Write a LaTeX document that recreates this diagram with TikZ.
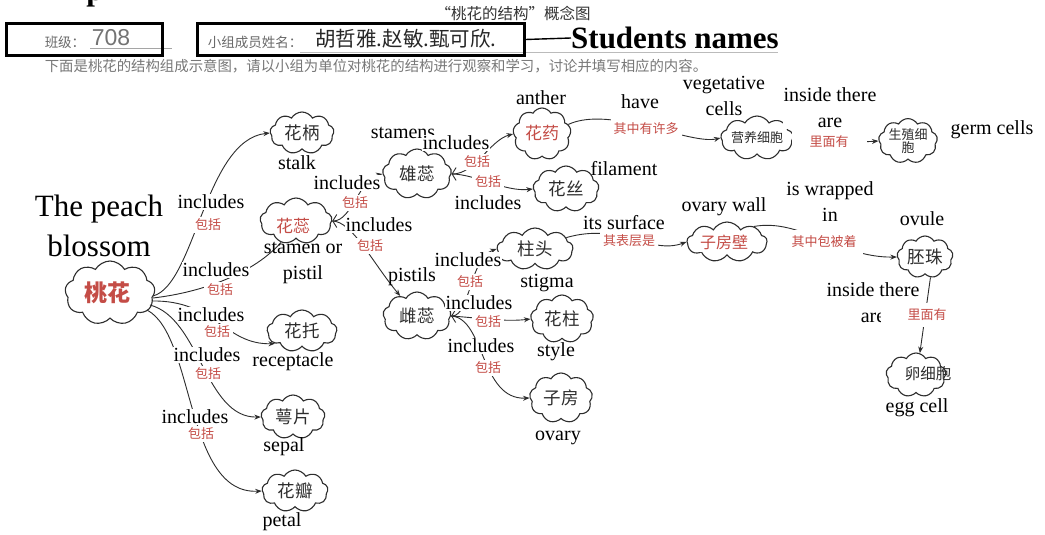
\documentclass[tikz,border=0pt]{standalone}
\usepackage{fontspec}
\setmainfont{Liberation Serif}
\setsansfont{Liberation Sans}
\newfontfamily\cjk{Noto Sans CJK SC}
\usetikzlibrary{shapes.symbols,arrows.meta,calc}
\definecolor{lblred}{RGB}{196,76,70}
\definecolor{ink}{RGB}{45,45,45}
\definecolor{hdr}{RGB}{105,105,105}
\tikzset{
  cl/.style n args={2}{cloud, cloud puffs=9, cloud puff arc=120, cloud ignores aspect,
    draw=ink, line width=1.1pt, inner sep=0pt, minimum width=#1, minimum height=#2,
    font=\cjk\fontsize{17.5}{19}\selectfont, text=ink},
  eng/.style={font=\fontsize{20}{26}\selectfont, inner sep=0.5pt, align=center, text=black},
  lnk/.style={eng, fill=white},
  rlb/.style={font=\cjk\fontsize{13}{15}\selectfont, text=lblred, fill=white, inner xsep=3pt, inner ysep=2pt},
  rin/.style={font=\cjk\fontsize{17}{19}\selectfont, text=lblred, fill=white, inner sep=1pt},
  conn/.style={draw=ink, line width=0.9pt},
  arr/.style={conn, -{Stealth[length=6.5pt,width=5pt]}},
  bar/.style={conn, {Straight Barb[length=4pt,width=13pt]}-{Stealth[length=6.5pt,width=5pt]}},
  hdrtext/.style={font=\cjk\fontsize{13.5}{15}\selectfont, text=hdr, inner sep=0pt},
  hbox/.style={draw=black, line width=2.2pt, minimum height=32pt, inner sep=0pt}
}
\begin{document}
\begin{tikzpicture}[x=1pt,y=-1pt]
\useasboundingbox[fill=white] (0,0) rectangle (1045,535);

% ---------------- header ----------------
\node[font=\bfseries\fontsize{31}{31}\selectfont, anchor=base, inner sep=0pt] (pcut) at (95,0.5) {p};
\node[font=\cjk\fontsize{15.5}{17}\selectfont, text=black!80, inner sep=0pt] (title) at (513,14) {“桃花的结构”概念图};
\draw[hdr!60, line width=0.6pt] (90,48) -- (172,48);
\draw[hdr!45, line width=0.6pt] (300,52) -- (778,52);
\node[hbox, minimum width=156pt] (classbox) at (84.5,39.5) {};
\node[hbox, minimum width=327pt] (namebox) at (361,39.5) {};
\node[hdrtext] (classlbl) at (65,42) {班级：};
\node[font=\sffamily\fontsize{23}{23}\selectfont, text=black!55, inner sep=0pt] (classno) at (111,38) {708};
\node[hdrtext] (namelbl) at (255,42) {小组成员姓名：};
\node[font=\cjk\fontsize{20.5}{22}\selectfont, text=black!85, inner sep=0pt] (names) at (406,39) {胡哲雅.赵敏.甄可欣.};
\node[font=\bfseries\fontsize{31}{31}\selectfont, anchor=west, inner sep=0pt] (students) at (571,38) {Students names};
\draw[line width=1.4pt] (namebox.east) -- (students.west);
\node[font=\cjk\fontsize{14.4}{16}\selectfont, text=hdr!90, inner sep=0pt] (instr) at (376,66)
  {下面是桃花的结构组成示意图，请以小组为单位对桃花的结构进行观察和学习，讨论并填写相应的内容。};

% ---------------- clouds ----------------
\node[cl={90pt}{64pt}] (root) at (110,293) {};
\node[cl={64pt}{42pt}] (stalk) at (302,133) {花柄};
\node[cl={72pt}{46pt}] (ruiz) at (296,221) {};
\node[cl={70pt}{42pt}] (recp) at (302,331) {花托};
\node[cl={64pt}{44pt}] (sepal) at (293,417) {萼片};
\node[cl={66pt}{42pt}] (petal) at (295,491) {花瓣};
\node[cl={69pt}{50pt}] (xiong) at (417,174) {雄蕊};
\node[cl={58pt}{52pt}] (yao) at (542,134) {};
\node[cl={66pt}{46pt}] (si) at (566,189) {花丝};
\node[cl={76pt}{42pt}] (zhutou) at (535,249) {柱头};
\node[cl={68pt}{48pt}] (ci) at (417,316) {雌蕊};
\node[cl={63pt}{48pt}] (zhu) at (562,319) {花柱};
\node[cl={63pt}{50pt}] (fang) at (561,398) {子房};
\node[cl={64pt}{44pt}, font=\cjk\fontsize{13}{14}\selectfont] (ying) at (757,138) {营养细胞};
\node[cl={52pt}{40pt}, font=\cjk\fontsize{13}{13.5}\selectfont, align=center] (sheng) at (908,141) {生殖细\\胞};
\node[cl={80pt}{40pt}] (bi) at (727,242) {};
\node[cl={56pt}{42pt}] (pei) at (925,257) {胚珠};
\node[cl={60pt}{44pt}] (luan) at (916,375) {};
\node[font=\cjk\fontsize{15.5}{17}\selectfont, text=ink, inner sep=0pt] (luantxt) at (928,374) {卵细胞};

% ---------------- connectors ----------------
\draw[arr] ($(root.east)+(-2,3)$) .. controls (195,285) and (205,140) .. (stalk.west);
\draw[conn] ($(root.east)+(-2,5)$) .. controls (205,292) and (255,272) .. (ruiz.235);
\draw[arr] ($(root.east)+(-3,8)$) .. controls (215,300) and (225,345) .. (recp.205);
\draw[arr] ($(root.east)+(-5,12)$) .. controls (200,318) and (205,418) .. (sepal.west);
\draw[arr] ($(root.east)+(-8,17)$) .. controls (195,335) and (185,495) .. (petal.west);

\draw[bar] (ruiz.east) .. controls (352,221) and (360,178) .. (xiong.west);
\draw[arr] (ruiz.east) .. controls (352,221) and (372,262) .. (ci.130);
\draw[bar] (xiong.east) .. controls (475,174) and (490,140) .. (yao.west);
\draw[arr] (xiong.east) .. controls (475,174) and (505,192) .. (si.west);
\draw[bar] (ci.east) .. controls (470,316) and (470,258) .. (zhutou.west);
\draw[arr] (ci.east) .. controls (480,318) and (505,322) .. (zhu.west);
\draw[arr] (ci.east) .. controls (485,318) and (480,400) .. (fang.west);

\draw[arr] (yao.20) .. controls (610,105) and (690,145) .. (ying.west);
\draw[arr] (ying.east) .. controls (820,138) and (850,143) .. (sheng.west);
\draw[arr] (zhutou.20) .. controls (620,222) and (650,255) .. (bi.west);
\draw[arr] (bi.30) .. controls (800,218) and (840,258) .. (pei.west);
\draw[arr] (pei.-75) -- (luan.80);

% ---------------- node captions ----------------
\node[eng, font=\fontsize{31}{40}\selectfont] (title2) at (99,226) {The peach\\blossom};
\node[eng] (stalkl) at (297,163) {stalk};
\node[eng] (ruizl) at (303,263) {stamen or\\pistil};
\node[eng] (recpl) at (293,362) {receptacle};
\node[eng] (sepall) at (284,447) {sepal};
\node[eng] (petall) at (282,522) {petal};
\node[eng] (xiongl) at (403,133) {stamens};
\node[eng] (yaol) at (541,98) {anther};
\node[eng] (sil) at (624,169) {filament};
\node[eng] (zhutoul) at (547,283) {stigma};
\node[eng] (cil) at (412,277) {pistils};
\node[eng] (zhul) at (556,352) {style};
\node[eng] (fangl) at (558,438) {ovary};
\node[eng] (yingl) at (724,96) {vegetative\\cells};
\node[eng] (shengl) at (992,130) {germ cells};
\node[eng] (bil) at (724,207) {ovary wall};
\node[eng] (peil) at (922,219) {ovule};
\node[eng] (luanl) at (917,408) {egg cell};

% ---------------- link labels ----------------
\node[lnk] (i1) at (211,202) {includes};
\node[lnk] (i2) at (216,270) {includes};
\node[lnk] (i3) at (211,315) {includes};
\node[lnk] (i4) at (207,355) {includes};
\node[lnk] (i5) at (195,417) {includes};
\node[lnk] (i6) at (347,183) {includes};
\node[lnk] (i7) at (379,225) {includes};
\node[lnk] (i8) at (456,143) {includes};
\node[lnk] (i9) at (488,203) {includes};
\node[lnk] (i10) at (468,260) {includes};
\node[lnk] (i11) at (479,303) {includes};
\node[lnk] (i12) at (481,346) {includes};
\node[lnk] (have) at (640,102) {have};
\node[lnk] (inside1) at (830,108) {inside there\\are};
\node[lnk] (surface) at (624,223) {its surface};
\node[lnk] (wrapped) at (830,202) {is wrapped\\in};
\node[lnk] (inside2) at (873,303) {inside there\\are};

\node[rlb] (b1) at (208,225) {包括};
\node[rlb] (b2) at (220,290) {包括};
\node[rlb] (b3) at (217,332) {包括};
\node[rlb] (b4) at (208,374) {包括};
\node[rlb] (b5) at (201,434) {包括};
\node[rlb] (b6) at (355,203) {包括};
\node[rlb] (b7) at (370,246) {包括};
\node[rlb] (b8) at (477,162) {包括};
\node[rlb] (b9) at (488,182) {包括};
\node[rlb] (b10) at (470,282) {包括};
\node[rlb] (b11) at (488,322) {包括};
\node[rlb] (b12) at (488,368) {包括};
\node[rlb, inner ysep=6pt] (r13) at (646,129) {其中有许多};
\node[rlb, inner xsep=18pt, inner ysep=4pt] (r14) at (829,142) {里面有};
\node[rlb, inner ysep=5pt] (r15) at (629,241) {其表层是};
\node[rlb, inner xsep=6pt, inner ysep=6pt] (r16) at (824,242) {其中包被着};
\fill[white] (881,304) rectangle (906,328);
\node[rlb, inner ysep=6pt] (r17) at (927,315) {里面有};

% ---------------- red texts inside clouds ----------------
\node[rin, font=\cjk\bfseries\fontsize{23}{25}\selectfont] (roottxt) at (107,293) {桃花};
\node[rin] (ruiztxt) at (293,226) {花蕊};
\node[rin] (yaotxt) at (542,133) {花药};
\node[rin, font=\cjk\fontsize{16}{18}\selectfont, inner xsep=4pt, inner ysep=3pt] (bitxt) at (724,242) {子房壁};
\end{tikzpicture}
\end{document}
